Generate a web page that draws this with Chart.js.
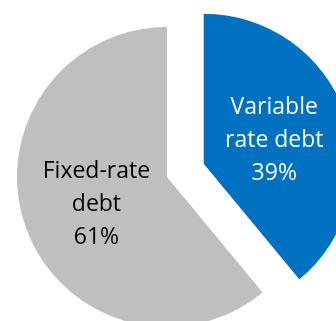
<!DOCTYPE html>
<html>
<head>
<meta charset="utf-8">
<script src="https://cdn.jsdelivr.net/npm/chart.js@4/dist/chart.umd.min.js"></script>
<style>
  html, body { margin: 0; padding: 0; background: #fff; }
  body { width: 336px; height: 321px; overflow: hidden; position: relative; }
  #wrap { position: absolute; left: -33px; top: -23px; width: 400px; height: 400px; }
</style>
</head>
<body>
<div id="wrap"><canvas id="chart"></canvas></div>
<script>
// Debt split by rate type, in percent of total debt.
const categories = [['Variable', 'rate debt'], ['Fixed-rate', 'debt']];
const shares = [39, 61];
const sliceColors = ['#0070c0', '#bfbfbf'];
const labelColors = ['#ffffff', '#000000'];
const explode = [39, 0]; // px each slice is pulled out along its mid angle

const FONT = "'Open Sans', sans-serif";
const FONT_SIZE = 23;
const LINE_H = 33;

// Draws each arc pulled straight out by `explode` px without growing its
// radius (the built-in `offset` option also enlarges the arc).
const explodedSlices = {
  id: 'explodedSlices',
  beforeDatasetDraw(chart, args) {
    const { ctx } = chart;
    args.meta.data.forEach((arc, i) => {
      const { startAngle, endAngle } = arc.getProps(['startAngle', 'endAngle'], true);
      const mid = (startAngle + endAngle) / 2;
      ctx.save();
      ctx.translate(Math.cos(mid) * explode[i], Math.sin(mid) * explode[i]);
      arc.draw(ctx, chart.chartArea);
      ctx.restore();
    });
    return false;
  },
  afterDatasetsDraw(chart) {
    const { ctx } = chart;
    const meta = chart.getDatasetMeta(0);
    ctx.save();
    ctx.font = `${FONT_SIZE}px ${FONT}`;
    ctx.textAlign = 'center';
    ctx.textBaseline = 'alphabetic';
    meta.data.forEach((arc, i) => {
      const { x, y, startAngle, endAngle, innerRadius, outerRadius } =
        arc.getProps(['x', 'y', 'startAngle', 'endAngle', 'innerRadius', 'outerRadius'], true);
      const mid = (startAngle + endAngle) / 2;
      const r = (innerRadius + outerRadius) / 2 + explode[i];
      const cx = x + Math.cos(mid) * r;
      const cy = y + Math.sin(mid) * r;
      const lines = [...categories[i], `${shares[i]}%`];
      const top = cy - (LINE_H * (lines.length - 1)) / 2;
      ctx.fillStyle = labelColors[i];
      lines.forEach((t, k) => ctx.fillText(t, cx, top + k * LINE_H + FONT_SIZE * 0.36));
    });
    ctx.restore();
  },
};

new Chart(document.getElementById('chart'), {
  type: 'pie',
  data: {
    labels: categories.map((c) => c.join(' ')),
    datasets: [{
      data: shares,
      backgroundColor: sliceColors,
      borderWidth: 0,
      offset: 0,
      hoverOffset: 0,
    }],
  },
  options: {
    responsive: true,
    maintainAspectRatio: false,
    animation: false,
    events: [],
    radius: 150,
    layout: { padding: 0 },
    plugins: { legend: { display: false }, tooltip: { enabled: false } },
  },
  plugins: [explodedSlices],
});
</script>
</body>
</html>
